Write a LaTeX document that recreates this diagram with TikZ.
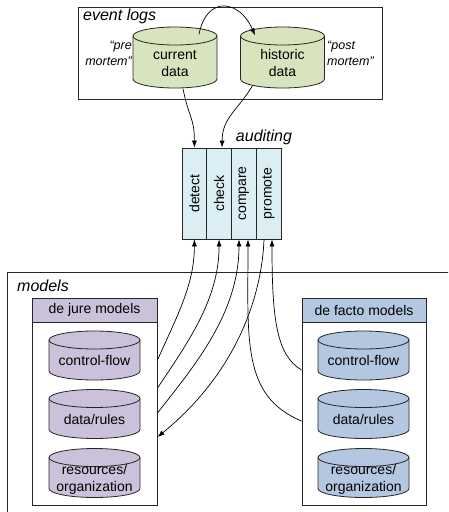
\documentclass[tikz,border=0pt]{standalone}
\usepackage{fontspec}
\setmainfont{Liberation Sans}
\usetikzlibrary{arrows.meta}

\definecolor{logfill}{HTML}{D7E4BD}
\definecolor{auditfill}{HTML}{DBEEF4}
\definecolor{jurefill}{HTML}{CCC1DA}
\definecolor{factofill}{HTML}{B4C7E0}
\definecolor{edge}{HTML}{262626}

% text of a drum sits in its body, below the lid
\newcommand\drumtext[1]{\raisebox{-10.5pt}[0pt][0pt]{\begin{tabular}{@{}c@{}}#1\end{tabular}}}

\begin{document}
\begin{tikzpicture}[x=1pt,y=-1pt,
    box/.style={draw=edge,line width=1pt,inner sep=0pt},
    tag/.style={font=\fontsize{16}{18}\selectfont\itshape,inner sep=0pt},
    quote/.style={font=\fontsize{12.5}{16}\selectfont\itshape,inner sep=0pt},
    db/.style 2 args={minimum width={2*#2+1},minimum height=50pt,inner sep=0pt,
        font=\fontsize{14}{17}\selectfont,
        path picture={
          \filldraw[fill=#1,draw=edge,line width=0.8pt]
            ([shift={(0.5pt,-9.5pt)}]path picture bounding box.north west)
            -- ([shift={(0.5pt,9.5pt)}]path picture bounding box.south west)
            arc[start angle=180,end angle=360,x radius=#2pt,y radius=9pt]
            -- ([shift={(-0.5pt,-9.5pt)}]path picture bounding box.north east)
            arc[start angle=0,end angle=180,x radius=#2pt,y radius=9pt] -- cycle;
          \draw[edge,line width=0.8pt]
            ([shift={(0.5pt,-9.5pt)}]path picture bounding box.north west)
            arc[start angle=180,end angle=360,x radius=#2pt,y radius=9pt];
        }},
    stepbox/.style={draw=edge,line width=0.8pt,fill=auditfill,minimum width=24.75pt,
        minimum height=91pt,inner sep=0pt,font=\fontsize{14}{16}\selectfont},
    head/.style={draw=edge,line width=1pt,minimum width=125pt,minimum height=24pt,
        inner sep=0pt,font=\fontsize{14}{16}\selectfont},
    flow/.style={line width=0.7pt,-{Latex[length=7pt,width=5pt]}}]

\useasboundingbox (0,0) rectangle (448,512);
\clip (0,0) rectangle (448,512);

% event logs
\node[box,minimum width=304pt,minimum height=92pt] (logs) at (230,53) {};
\node[tag,anchor=west] at (83,16) {event logs};
\node[db={logfill}{42},minimum height=62pt] (curr) at (175,57.5) {\drumtext{current\\data}};
\node[db={logfill}{42},minimum height=62pt] (hist) at (282.5,57.5) {\drumtext{historic\\data}};
\node[quote,anchor=east,align=right] (pre) at (132,53) {“pre\\mortem”};
\node[quote,anchor=west,align=left] (post) at (327,53) {“post\\mortem”};

% auditing steps
\node[tag] at (264,137) {auditing};
\node[stepbox] (detect) at (194.4,193.5) {\rotatebox{90}{detect}};
\node[stepbox] (check) at (219.1,193.5) {\rotatebox{90}{check}};
\node[stepbox] (compare) at (243.9,193.5) {\rotatebox{90}{compare}};
\node[stepbox] (promote) at (268.6,193.5) {\rotatebox{90}{promote}};

% models
\draw[box] (7,272) rectangle (460,520);
\node[tag,anchor=west] at (17,286) {models};

\node[box,minimum width=125pt,minimum height=207pt] (jure) at (94.5,401.5) {};
\node[head,fill=jurefill] (jurehead) at (94.5,310) {de jure models};
\node[db={jurefill}{45.5}] (jcf) at (94.5,355.5) {\drumtext{control-flow}};
\node[db={jurefill}{45.5}] (jdr) at (94.5,414) {\drumtext{data/rules}};
\node[db={jurefill}{45.5}] (jro) at (94.5,473) {\drumtext{resources/\\organization}};

\node[box,minimum width=124pt,minimum height=207pt] (facto) at (364,401.5) {};
\node[head,fill=factofill,minimum width=124pt] (factohead) at (364,310) {de facto models};
\node[db={factofill}{45.5}] (fcf) at (363.5,355.5) {\drumtext{control-flow}};
\node[db={factofill}{45.5}] (fdr) at (363.5,414) {\drumtext{data/rules}};
\node[db={factofill}{45.5}] (fro) at (363.5,473) {\drumtext{resources/\\organization}};

% connectors
\draw[flow] ([xshift=24pt,yshift=-8pt]curr.north) .. controls +(8,-40) and +(-15,-35) .. ([xshift=-27.5pt,yshift=-9pt]hist.north);
\draw[flow] ([xshift=8pt]curr.south) .. controls +(6,30) and +(0,-30) .. (detect.north);
\draw[flow] ([xshift=-30pt,yshift=3pt]hist.south) .. controls +(-15,25) and +(0,-30) .. ([xshift=3pt]check.north);

\draw[flow] ([yshift=41.5pt]jure.east) .. controls +(20,-45) and +(0,45) .. (detect.south);
\draw[flow] ([yshift=13.5pt]jure.east) .. controls +(30,-45) and +(0,60) .. (check.south);
\draw[flow] ([yshift=-11.5pt]jure.east) .. controls +(35,-45) and +(0,75) .. ([xshift=-4.9pt]compare.south);
\draw[flow] ([xshift=-4.6pt]promote.south) .. controls +(-2,55) and +(80,-65) .. ([yshift=-35.5pt]jure.east);
\draw[flow] ([yshift=-19.5pt]facto.west) .. controls +(-60,-25) and +(0,100) .. ([xshift=4.1pt]compare.south);
\draw[flow] ([yshift=31.5pt]facto.west) .. controls +(-25,-15) and +(0,80) .. ([xshift=3.4pt]promote.south);

\end{tikzpicture}
\end{document}
